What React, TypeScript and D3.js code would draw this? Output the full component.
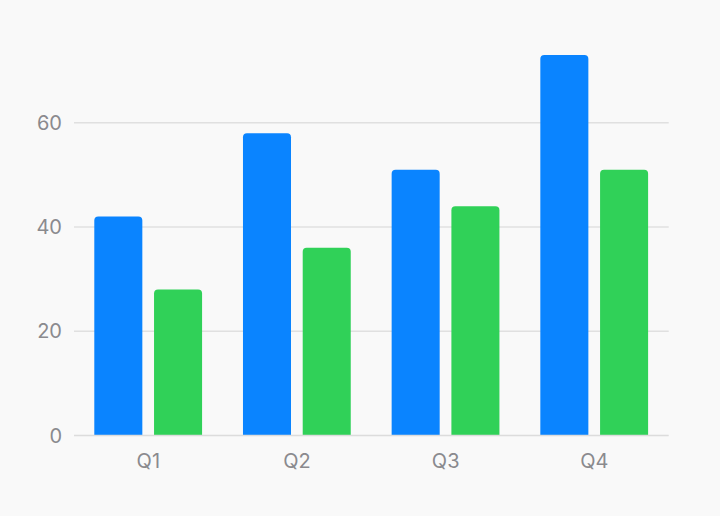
import React from 'react';
import * as d3 from 'd3';

const quarters = ['Q1', 'Q2', 'Q3', 'Q4'];
const seriesNames = ['A', 'B'];
const seriesA = [42, 58, 51, 73];
const seriesB = [28, 36, 44, 51];
const yTicks = [0, 20, 40, 60];

const colors = ['#0A84FF', '#30D158'];

const App: React.FC = () => {
    const width = 720;
    const height = 516;
    const left = 74;
    const right = 668.7;
    const baseline = 435.5;

    const x0 = d3.scaleBand<string>().domain(quarters).range([left, right]);
    const x1 = d3.scaleBand<string>()
        .domain(seriesNames)
        .range([20.3, x0.bandwidth() - 20.6])
        .paddingInner(0.196);
    const y = d3.scaleLinear().domain([0, 80]).range([baseline, baseline - 417]);

    const values = [seriesA, seriesB];
    const r = 4;

    // bar with rounded top corners only
    const barPath = (x: number, top: number, w: number, bottom: number) => {
        const rr = Math.min(r, (bottom - top) / 2, w / 2);
        return `M${x},${bottom}V${top + rr}Q${x},${top} ${x + rr},${top}H${x + w - rr}Q${x + w},${top} ${x + w},${top + rr}V${bottom}Z`;
    };

    return (
        <svg width={width} height={height} style={{ position: 'absolute', left: 0, top: 0, background: '#f9f9f9' }}
            fontFamily="Inter, Roboto, sans-serif">
            {yTicks.filter(t => t > 0).map(t => (
                <line key={`g${t}`} x1={left} x2={right} y1={y(t)} y2={y(t)} stroke="#e0e0e0" strokeWidth={1.5} />
            ))}
            {yTicks.map(t => (
                <text key={`t${t}`} x={62} y={y(t)} dy="0.36em" textAnchor="end" fontSize={20} fill="#8a8a8e">{t}</text>
            ))}
            {quarters.map((q, i) => (
                <g key={q} transform={`translate(${x0(q)},0)`}>
                    {seriesNames.map((s, j) => (
                        <path key={s} d={barPath(x1(s) ?? 0, y(values[j][i]), x1.bandwidth(), baseline)} fill={colors[j]} />
                    ))}
                    <text x={x0.bandwidth() / 2} y={468} textAnchor="middle" fontSize={20} fill="#8a8a8e">{q}</text>
                </g>
            ))}
            <line x1={left} x2={right} y1={baseline} y2={baseline} stroke="#dcdcdc" strokeWidth={1.5} />
        </svg>
    );
};

export default App;
